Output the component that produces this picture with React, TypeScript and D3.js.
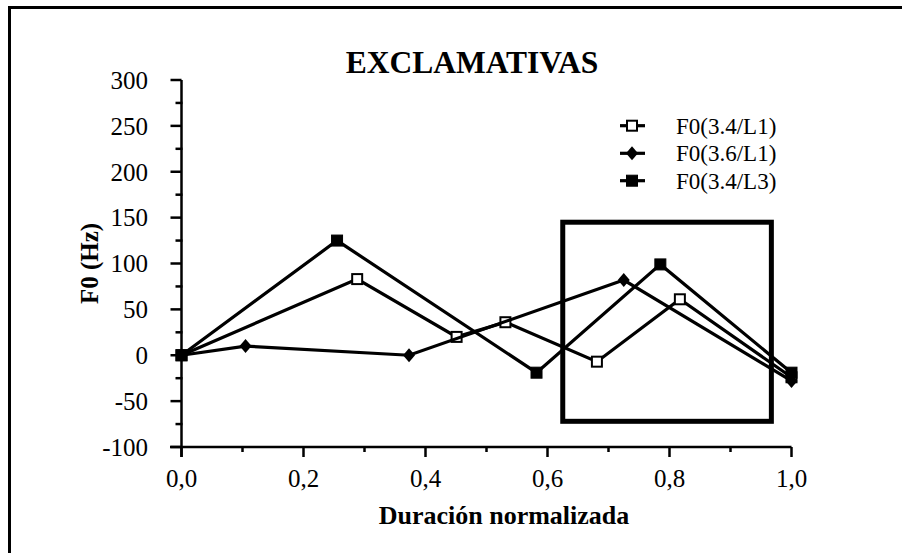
import React from "react";
import * as d3 from "d3";

const seriesNames = ["F0(3.4/L1)", "F0(3.6/L1)", "F0(3.4/L3)"];
const s1X = [0, 0.288, 0.451, 0.531, 0.681, 0.817, 1.0];
const s1Y = [0, 83, 20, 36, -7, 61, -24];
const s2X = [0, 0.105, 0.373, 0.725, 1.0];
const s2Y = [0, 10, 0, 82, -28];
const s3X = [0, 0.255, 0.582, 0.785, 1.0];
const s3Y = [0, 125, -19, 99, -19];
const yTicks = [-100, -50, 0, 50, 100, 150, 200, 250, 300];
const yMinor = [-75, -25, 25, 75, 125, 175, 225, 275];
const xTicks = [0, 0.2, 0.4, 0.6, 0.8, 1.0];
const xMinor = [0.1, 0.3, 0.5, 0.7, 0.9];
const boxX = [0.625, 0.967];
const boxY = [145, -72];

const FONT = "'Liberation Serif', 'Times New Roman', serif";

export default function App() {
  const x = d3.scaleLinear().domain([0, 1]).range([181.5, 791.5]);
  const y = d3.scaleLinear().domain([-100, 300]).range([447, 80]);
  const line = d3
    .line<[number, number]>()
    .x((d) => x(d[0]))
    .y((d) => y(d[1]));
  const series = [
    { name: seriesNames[0], pts: s1X.map((v, i) => [v, s1Y[i]] as [number, number]), kind: "open" },
    { name: seriesNames[1], pts: s2X.map((v, i) => [v, s2Y[i]] as [number, number]), kind: "diamond" },
    { name: seriesNames[2], pts: s3X.map((v, i) => [v, s3Y[i]] as [number, number]), kind: "filled" },
  ];
  const marker = (kind: string, cx: number, cy: number, key: any) => {
    if (kind === "open")
      return <rect key={key} x={cx - 5} y={cy - 5} width={10} height={10} fill="#fff" stroke="#000" strokeWidth={2} />;
    if (kind === "filled")
      return <rect key={key} x={cx - 5.5} y={cy - 5.5} width={11} height={11} fill="#000" stroke="#000" strokeWidth={1} />;
    return (
      <path key={key} d={`M${cx},${cy - 7}L${cx + 6},${cy}L${cx},${cy + 7}L${cx - 6},${cy}Z`} fill="#000" />
    );
  };
  const legendY = [125.7, 153.3, 180.7];
  return (
    <svg width={902} height={553} style={{ position: "absolute", left: 0, top: 0, background: "#fff" }}>
      <rect width={902} height={553} fill="#fff" />
      <path d="M9.5,553V7.5H902" fill="none" stroke="#000" strokeWidth={3} />
      <text x={472} y={73} textAnchor="middle" fontFamily={FONT} fontWeight="bold" fontSize={31.5}>
        EXCLAMATIVAS
      </text>
      {/* box */}
      <rect
        x={x(boxX[0])}
        y={y(boxY[0])}
        width={x(boxX[1]) - x(boxX[0])}
        height={y(boxY[1]) - y(boxY[0])}
        fill="none"
        stroke="#000"
        strokeWidth={5}
      />
      {/* axes */}
      <line x1={x(0)} x2={x(0)} y1={y(300)} y2={y(-100) + 10} stroke="#000" strokeWidth={2.5} />
      <line x1={170} x2={x(1)} y1={y(-100)} y2={y(-100)} stroke="#000" strokeWidth={2.5} />
      {yTicks.map((t) => (
        <g key={"yt" + t}>
          <line x1={x(0) - 11} x2={x(0)} y1={y(t)} y2={y(t)} stroke="#000" strokeWidth={2.5} />
          <text x={148} y={y(t)} dy="0.35em" textAnchor="end" fontFamily={FONT} fontSize={25}>
            {t}
          </text>
        </g>
      ))}
      {yMinor.map((t) => (
        <line key={"ym" + t} x1={x(0) - 6} x2={x(0) + 1} y1={y(t)} y2={y(t)} stroke="#000" strokeWidth={2.5} />
      ))}
      {xTicks.map((t) => (
        <g key={"xt" + t}>
          <line x1={x(t)} x2={x(t)} y1={y(-100)} y2={y(-100) + 10} stroke="#000" strokeWidth={2.5} />
          <text x={x(t)} y={487} textAnchor="middle" fontFamily={FONT} fontSize={25}>
            {t.toFixed(1).replace(".", ",")}
          </text>
        </g>
      ))}
      {xMinor.map((t) => (
        <line key={"xm" + t} x1={x(t)} x2={x(t)} y1={y(-100)} y2={y(-100) + 5} stroke="#000" strokeWidth={2.5} />
      ))}
      <text x={504} y={524} textAnchor="middle" fontFamily={FONT} fontWeight="bold" fontSize={26}>
        Duración normalizada
      </text>
      <text
        transform={`translate(98,${y(100)}) rotate(-90)`}
        textAnchor="middle"
        fontFamily={FONT}
        fontWeight="bold"
        fontSize={25}
      >
        F0 (Hz)
      </text>
      {/* series */}
      {series.map((s, si) => (
        <g key={"s" + si}>
          <path d={line(s.pts) || ""} fill="none" stroke="#000" strokeWidth={3.2} strokeLinejoin="miter" />
          {s.pts.map((p, i) => marker(s.kind, x(p[0]), y(p[1]), i))}
        </g>
      ))}
      {/* legend */}
      {series.map((s, i) => (
        <g key={"lg" + i}>
          <line x1={620} x2={645} y1={legendY[i]} y2={legendY[i]} stroke="#000" strokeWidth={3.2} />
          {marker(s.kind, 632, legendY[i], "m")}
          <text x={676} y={legendY[i]} dy="0.35em" fontFamily={FONT} fontSize={23}>
            {s.name}
          </text>
        </g>
      ))}
    </svg>
  );
}
